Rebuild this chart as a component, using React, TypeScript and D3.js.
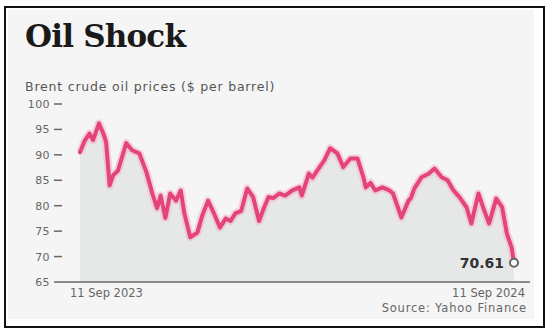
import React from "react";
import * as d3 from "d3";

const dates: string[] = [
  "2023-09-11","2023-09-15","2023-09-19","2023-09-22","2023-09-27","2023-10-01","2023-10-03","2023-10-06",
  "2023-10-09","2023-10-13","2023-10-17","2023-10-20","2023-10-25","2023-10-31","2023-11-06","2023-11-11",
  "2023-11-15","2023-11-18","2023-11-22","2023-11-26","2023-12-01","2023-12-05","2023-12-08","2023-12-13",
  "2023-12-19","2023-12-23","2023-12-28","2024-01-01","2024-01-07","2024-01-12","2024-01-16","2024-01-20",
  "2024-01-25","2024-01-30","2024-02-04","2024-02-09","2024-02-13","2024-02-17","2024-02-21","2024-02-26",
  "2024-03-02","2024-03-08","2024-03-14","2024-03-16","2024-03-22","2024-03-25","2024-03-29","2024-04-04",
  "2024-04-09","2024-04-15","2024-04-20","2024-04-26","2024-05-02","2024-05-07","2024-05-09","2024-05-13",
  "2024-05-17","2024-05-23","2024-05-29","2024-06-01","2024-06-08","2024-06-14","2024-06-16","2024-06-19",
  "2024-06-25","2024-07-01","2024-07-06","2024-07-12","2024-07-17","2024-07-22","2024-07-27","2024-08-02",
  "2024-08-06","2024-08-12","2024-08-17","2024-08-21","2024-08-27","2024-09-01","2024-09-05","2024-09-09",
  "2024-09-11"
];
const prices: number[] = [
  90.5, 92.8, 94.2, 92.9, 96.2, 94.0, 92.5, 84.0,
  86.0, 86.9, 90.0, 92.3, 90.9, 90.3, 86.6, 82.4,
  79.5, 82.0, 77.6, 82.4, 81.0, 83.0, 78.5, 73.8,
  74.7, 78.0, 81.0, 79.0, 75.7, 77.5, 77.0, 78.5,
  79.0, 83.4, 81.7, 77.0, 79.5, 81.7, 81.5, 82.4,
  82.0, 83.0, 83.6, 82.0, 86.3, 85.5, 86.9, 88.9,
  91.3, 90.3, 87.6, 89.3, 89.3, 85.6, 83.6, 84.5,
  83.0, 83.6, 83.0, 82.4, 77.7, 81.0, 81.5, 83.4,
  85.6, 86.3, 87.3, 85.6, 85.0, 83.0, 81.7, 79.7,
  76.5, 82.4, 79.0, 76.5, 81.4, 79.7, 74.5, 71.8,
  68.8
];
const yTicks: number[] = [65, 70, 75, 80, 85, 90, 95, 100];
const xLabels: string[] = ["11 Sep 2023", "11 Sep 2024"];
const lastLabel = "70.61";
const title = "Oil Shock";
const subtitle = "Brent crude oil prices ($ per barrel)";
const source = "Source: Yahoo Finance";

export default function App() {
  const parse = d3.timeParse("%Y-%m-%d");
  const data = dates.map((d, i) => ({ date: parse(d) as Date, value: prices[i] }));
  const x = d3
    .scaleTime()
    .domain([parse("2023-09-11") as Date, parse("2024-09-11") as Date])
    .range([80, 514]);
  const y = d3.scaleLinear().domain([65, 100]).range([282, 104]);
  const line = d3
    .line<{ date: Date; value: number }>()
    .x((d) => x(d.date))
    .y((d) => y(d.value))
    .curve(d3.curveLinear);
  const area = d3
    .area<{ date: Date; value: number }>()
    .x((d) => x(d.date))
    .y0(y(65))
    .y1((d) => y(d.value));
  const last = data[data.length - 1];
  const sans = "'DejaVu Sans', sans-serif";

  return (
    <svg
      width={549}
      height={329}
      style={{ position: "absolute", left: 0, top: 0 }}
    >
      <rect x={0} y={0} width={549} height={329} fill="#ffffff" />
      <rect x={8} y={10} width={526} height={309} fill="#f5f5f5" />
      <rect x={5} y={7} width={539} height={320} fill="none" stroke="#111" strokeWidth={2} />
      <text x={25} y={47} fontFamily="'DejaVu Serif', serif" fontWeight="bold" fontSize={31} fill="#1a1a1a" letterSpacing={-0.8}>
        {title}
      </text>
      <text x={25} y={91} fontFamily={sans} fontSize={12.5} fill="#555" letterSpacing={0.8}>
        {subtitle}
      </text>
      <path d={area(data) || ""} fill="#e6e8e8" />
      {yTicks.map((t) => (
        <g key={t}>
          <text x={50} y={y(t) + 4} textAnchor="end" fontFamily={sans} fontSize={11} fill="#666" letterSpacing={0.4}>
            {t}
          </text>
          {t !== 65 && (
            <line x1={54} x2={62} y1={y(t)} y2={y(t)} stroke="#666" strokeWidth={1.5} />
          )}
        </g>
      ))}
      <line x1={54} x2={530} y1={y(65)} y2={y(65)} stroke="#8a8a8a" strokeWidth={2} />
      <path d={line(data) || ""} fill="none" stroke="#f2a5c0" strokeOpacity={0.45} strokeWidth={8} strokeLinejoin="round" />
      <path d={line(data) || ""} fill="none" stroke="#e4447b" strokeWidth={4} strokeLinejoin="round" strokeLinecap="round" />
      <circle cx={x(last.date)} cy={y(last.value)} r={4} fill="#fff" stroke="#666" strokeWidth={2} />
      <text x={x(last.date) - 10} y={y(last.value) + 5} textAnchor="end" fontFamily={sans} fontWeight="bold" fontSize={14} fill="#333">
        {lastLabel}
      </text>
      <text x={70} y={297} fontFamily={sans} fontSize={11.5} fill="#666">
        {xLabels[0]}
      </text>
      <text x={525} y={297} textAnchor="end" fontFamily={sans} fontSize={11.5} fill="#666">
        {xLabels[1]}
      </text>
      <text x={527} y={312} textAnchor="end" fontFamily={sans} fontSize={11.5} fill="#666" letterSpacing={0.8}>
        {source}
      </text>
    </svg>
  );
}
